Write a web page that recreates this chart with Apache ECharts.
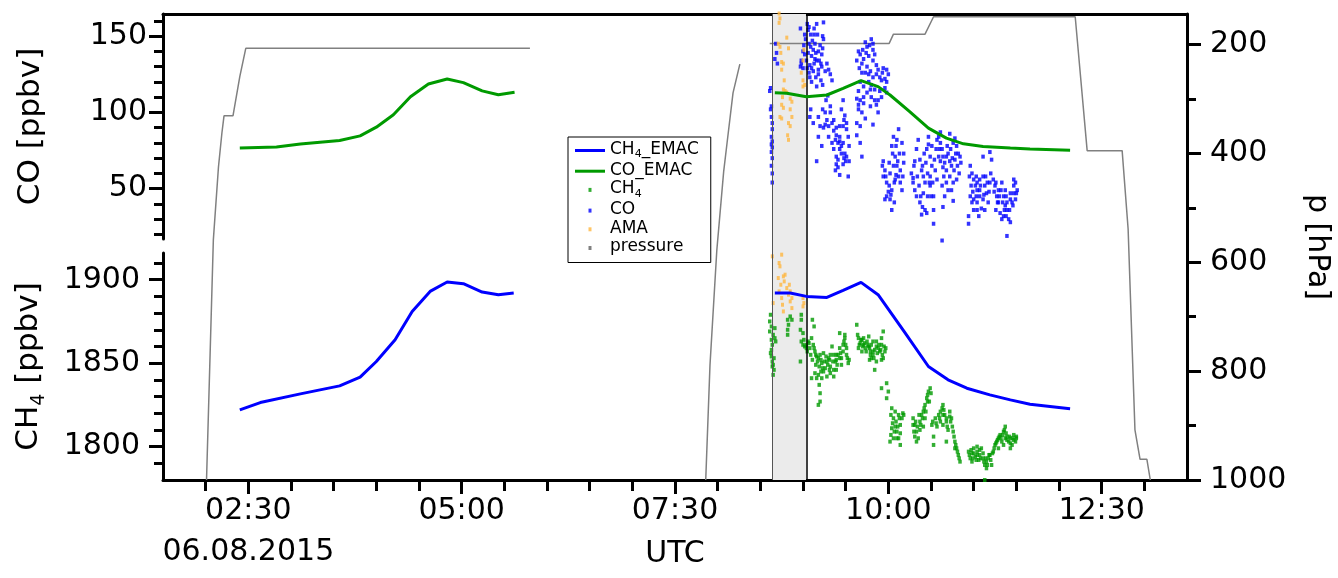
<!DOCTYPE html>
<html>
<head>
<meta charset="utf-8">
<script src="https://cdn.jsdelivr.net/npm/echarts@6/dist/echarts.min.js"></script>
<style>
html,body{margin:0;padding:0;background:#fff;}
#chart{width:1338px;height:578px;}
</style>
</head>
<body>
<div id="chart"></div>
<script>
// ---------------- data (time in decimal hours UTC, 06.08.2015) ----------------
const dateLabel = '06.08.2015';
const xMajorTicks = [2.5, 5, 7.5, 10, 12.5];
const xMinorTicks = [2, 3, 3.5, 4, 4.5, 5.5, 6, 6.5, 7, 8, 8.5, 9, 9.5, 10.5, 11, 11.5, 12, 13];
const coMajorTicks = [50, 100, 150];
const coMinorTicks = [20, 30, 40, 60, 70, 80, 90, 110, 120, 130, 140, 160];
const ch4MajorTicks = [1800, 1850, 1900];
const ch4MinorTicks = [1790, 1810, 1820, 1830, 1840, 1860, 1870, 1880, 1890, 1910];
const pMajorTicks = [200, 400, 600, 800, 1000];
const pMinorTicks = [300, 500, 700, 900];

const coEmacFlight1 = [[2.40,76.6],[2.83,77.3],[3.11,79.3],[3.57,81.6],[3.81,84.6],[4.00,90.3],[4.20,98.4],[4.40,110.3],[4.61,118.6],[4.83,121.9],[5.02,119.5],[5.24,114.1],[5.43,111.6],[5.62,113.2]];
const coEmacFlight2 = [[8.67,112.9],[8.81,112.5],[9.04,110.3],[9.28,111.4],[9.47,115.8],[9.68,120.8],[9.88,116.9],[10.02,111.4],[10.25,100.5],[10.47,89.7],[10.68,83.1],[10.88,79.4],[11.11,77.6],[11.43,76.6],[11.66,76.0],[12.13,75.2]];
const ch4EmacFlight1 = [[2.40,1822],[2.64,1826.4],[3.11,1831.6],[3.57,1836.4],[3.81,1841.6],[4.00,1851],[4.22,1864],[4.42,1881],[4.63,1893],[4.83,1898.6],[5.02,1897.6],[5.24,1892.6],[5.43,1891],[5.61,1892]];
const ch4EmacFlight2 = [[8.67,1892],[8.85,1892],[9.04,1890],[9.28,1889.4],[9.47,1893.6],[9.68,1898.4],[9.88,1891],[10.18,1869.4],[10.47,1848],[10.70,1840],[10.92,1835],[11.19,1831],[11.43,1828],[11.66,1825.4],[12.13,1822.7]];

const pressureFlight1 = [[2.01,1000],[2.09,559],[2.15,425],[2.19,363],[2.215,331],[2.32,331],[2.40,259],[2.47,207],[5.80,207]];
const pressureFlight2a = [[7.86,1000],[7.91,789],[7.99,578],[8.07,434],[8.11,381],[8.18,289],[8.26,236]];
const pressureFlight2b = [[8.61,198],[10.01,198],[10.06,181],[10.43,181],[10.53,149],[12.19,149],[12.33,395],[12.74,395],[12.81,539],[12.89,908],[12.95,962],[13.03,962],[13.07,1000]];

const coObs = [
[8.62,116],[8.61,114],[8.68,145],[8.69,139],[8.67,135],[8.70,132],[8.63,104],[8.64,93],[8.63,84],[8.64,81],[8.63,79],[8.64,77],[8.63,74],[8.64,70],[8.64,54],
[8.62,102],[8.63,97],[8.64,89],[8.63,65],[8.64,60],
[8.97,155],[9.02,151],[9.03,148],[9.01,144],[9.00,140],[9.02,138],[8.98,134],[8.98,132],[8.97,130],[9.00,129],
[9.05,158],[9.07,156],[9.13,155],[9.16,158],[9.24,159],[9.13,151],[9.17,151],[9.23,150],[9.24,148],[9.07,145],[9.09,143],[9.12,141],[9.15,139],[9.18,140],[9.22,138],[9.16,134],[9.13,132],[9.08,131],[9.10,129],[9.18,128],[9.18,125],[9.21,132],[9.08,123],[9.10,120],[9.16,117],[9.32,125],[9.34,121],[9.30,128],
[9.06,154],[9.09,151],[9.11,147],[9.14,145],[9.20,144],[9.23,142],[9.10,137],[9.14,135],[9.19,134],[9.22,130],[9.12,127],[9.15,123],[9.21,121],[9.23,118],[9.26,127],[9.28,132],[9.06,139],[9.04,134],[9.05,129],[9.07,126],
[9.09,102],[9.08,97],[9.18,97],[9.27,108],[9.29,111],[9.32,104],[9.20,91],[9.24,90],[9.26,92],[9.18,84],[9.30,84],[9.22,78],[9.16,68],[9.28,95],[9.12,93],
[9.47,108],[9.49,98],[9.51,93],[9.36,95],[9.39,90],[9.47,91],[9.51,89],[9.38,82],[9.41,80],[9.43,84],[9.47,80],[9.45,78],[9.43,76],[9.39,71],[9.49,73],[9.51,71],[9.39,66],[9.41,69],[9.38,62],[9.43,59],[9.53,58],[9.54,78],
[9.32,100],[9.34,93],[9.36,88],[9.39,85],[9.43,81],[9.45,73],[9.48,70],[9.50,68],[9.47,66],[9.41,64],[9.36,76],[9.34,80],[9.30,91],[9.26,100],[9.23,102],[9.45,102],[9.48,95],[9.53,84],[9.54,68],[9.43,91],
[9.65,140],[9.67,138],[9.71,135],[9.69,132],[9.73,146],[9.75,143],[9.80,148],[9.82,145],[9.77,137],[9.84,138],[9.75,130],[9.82,134],[9.79,127],[9.73,126],[9.69,126],[9.86,125],[9.90,123],[9.92,121],[9.94,129],[9.98,128],[9.98,120],[9.77,120],[9.80,118],[9.67,120],[9.84,115],[9.96,116],[9.90,114],[9.65,114],[9.80,110],[9.63,109],[9.67,108],[9.88,108],[9.92,110],[9.71,106],[9.79,104],[9.65,102],[9.69,100],[9.88,100],[9.73,96],[9.63,93],[9.67,91],[9.82,92],[9.63,85],[9.67,80],[9.69,71],[9.98,113],
[9.63,134],[9.66,129],[9.70,141],[9.74,139],[9.78,144],[9.82,141],[9.86,131],[9.88,128],[9.93,126],[9.96,122],[10.00,125],[9.71,117],[9.75,113],[9.79,115],[9.84,108],[9.86,105],[9.71,110],[9.65,105],[9.82,123],[9.77,125],
[9.94,68],[9.96,62],[9.94,58],[9.98,54],[10.00,48],[10.02,43],[10.04,36],[10.06,84],[10.04,78],[10.08,71],[10.10,65],[10.12,89],[10.12,58],[10.14,54],[10.16,49],[10.06,65],[10.02,60],[10.18,73],[10.16,80],[10.10,82],[10.08,56],[10.04,49],[9.96,43],
[9.93,65],[9.97,58],[10.01,52],[10.03,46],[10.07,54],[10.09,59],[10.11,68],[10.13,73],[10.14,62],[10.17,58],[10.18,67],[10.01,67],[10.05,73],[10.09,78],[9.98,45],[10.07,41],
[10.27,60],[10.29,54],[10.31,49],[10.33,45],[10.35,82],[10.33,76],[10.37,69],[10.39,62],[10.41,58],[10.43,54],[10.41,47],[10.47,84],[10.45,76],[10.49,71],[10.51,65],[10.49,52],[10.53,45],[10.55,62],[10.57,82],[10.53,36],[10.45,34],[10.39,33],[10.53,27],[10.37,41],[10.43,36],[10.49,58],[10.31,68],[10.47,79],
[10.29,57],[10.30,65],[10.34,58],[10.36,52],[10.38,45],[10.40,65],[10.42,73],[10.44,67],[10.46,60],[10.48,54],[10.50,45],[10.52,54],[10.54,69],[10.56,76],[10.57,56],[10.40,38],[10.46,45],[10.51,78],
[10.59,84],[10.61,80],[10.63,76],[10.64,71],[10.66,67],[10.68,62],[10.61,87],[10.72,86],[10.76,80],[10.78,83],[10.80,78],[10.82,73],[10.78,69],[10.74,65],[10.72,58],[10.68,54],[10.70,49],[10.66,45],[10.76,54],[10.80,56],[10.84,71],[10.63,16],[10.64,38],[10.76,42],[10.59,71],[10.70,73],
[10.60,76],[10.61,68],[10.64,64],[10.65,58],[10.68,71],[10.69,78],[10.72,68],[10.73,76],[10.75,70],[10.77,62],[10.79,73],[10.81,65],[10.83,60],[10.85,67],[10.63,52],[10.74,49],
[10.96,65],[10.98,60],[11.00,56],[11.02,52],[11.04,49],[10.96,45],[10.98,41],[11.00,36],[10.94,32],[10.94,27],[11.04,54],[11.07,45],[11.11,58],[11.13,52],[11.15,47],[11.19,54],[11.17,41],[11.13,36],[11.04,36],[11.06,32],[11.11,71],[11.19,74],[11.21,69],[11.07,49],[11.14,58],
[10.95,58],[10.97,52],[10.99,48],[11.00,43],[11.03,45],[11.04,41],[11.07,56],[11.08,52],[11.11,43],[11.12,46],[11.16,54],[11.18,48],[11.20,60],[11.03,58],[11.09,37],
[11.23,56],[11.25,52],[11.27,45],[11.29,41],[11.31,34],[11.33,30],[11.35,45],[11.37,39],[11.39,36],[11.41,30],[11.43,28],[11.45,41],[11.47,47],[11.49,54],[11.47,56],[11.49,43],[11.39,19],[11.37,49],[11.33,54],[11.43,47],[11.29,49],[11.35,32],
[11.24,48],[11.26,54],[11.28,41],[11.30,45],[11.32,49],[11.34,41],[11.36,36],[11.38,45],[11.39,41],[11.42,36],[11.43,43],[11.46,39],[11.47,52],[11.50,47],[11.51,49],[11.26,36],[11.38,32]
];

const ch4Obs = [
[8.62,1879],[8.61,1875],[8.63,1872],[8.65,1867],[8.67,1871],[8.68,1863],[8.64,1861],[8.63,1858],[8.63,1854],[8.64,1851],[8.65,1849],[8.66,1846],[8.65,1843],[8.61,1869],[8.67,1865],
[8.62,1856],[8.64,1848],[8.63,1864],[8.66,1853],
[8.82,1876],[8.83,1873],[8.82,1867],[8.85,1878],[8.87,1876],[8.82,1870],
[8.98,1879],[8.98,1876],[8.97,1870],[9.00,1868],[8.98,1863],[9.00,1861],[8.97,1851],[9.02,1860],[9.01,1864],
[9.04,1861],[9.06,1863],[9.08,1859],[9.10,1865],[9.12,1861],[9.11,1876],[9.13,1872],[9.14,1857],[9.16,1854],[9.15,1849],[9.18,1853],[9.20,1855],[9.22,1850],[9.24,1856],[9.26,1847],[9.28,1851],[9.30,1853],[9.32,1848],[9.34,1860],[9.36,1855],[9.38,1851],[9.39,1846],[9.41,1855],[9.43,1859],[9.45,1853],[9.47,1861],[9.49,1865],[9.51,1855],[9.53,1850],[9.43,1868],[9.49,1867],[9.18,1843],[9.16,1841],[9.19,1837],[9.20,1832],[9.18,1825],[9.20,1827],[9.28,1842],[9.32,1844],[9.24,1845],[9.36,1842],[9.14,1844],[9.22,1841],[9.39,1852],[9.45,1849],[9.51,1859],
[9.04,1859],[9.05,1857],[9.07,1862],[9.09,1855],[9.11,1852],[9.13,1859],[9.15,1855],[9.17,1851],[9.19,1848],[9.21,1852],[9.23,1847],[9.25,1851],[9.27,1854],[9.29,1849],[9.31,1852],[9.32,1855],[9.35,1851],[9.36,1846],[9.39,1855],[9.40,1849],[9.43,1853],[9.44,1856],[9.47,1857],[9.48,1863],[9.50,1861],[9.52,1853],[9.54,1852],[9.10,1841],[9.21,1845],[9.31,1846],
[9.63,1873],[9.65,1865],[9.67,1862],[9.69,1864],[9.71,1861],[9.73,1859],[9.75,1863],[9.77,1860],[9.79,1857],[9.80,1861],[9.82,1855],[9.84,1858],[9.86,1863],[9.88,1859],[9.90,1857],[9.92,1861],[9.94,1869],[9.96,1857],[9.92,1852],[9.86,1851],[9.84,1846],[9.80,1853],[9.71,1865],[9.77,1866],[9.92,1865],[9.94,1853],[9.98,1838],[10.00,1833],[9.92,1835],[9.98,1829],[9.65,1859],[9.69,1857],
[9.64,1867],[9.66,1861],[9.68,1864],[9.70,1860],[9.72,1862],[9.74,1857],[9.76,1861],[9.78,1859],[9.79,1855],[9.82,1857],[9.83,1853],[9.86,1860],[9.87,1856],[9.89,1861],[9.91,1858],[9.93,1855],[9.95,1860],[9.97,1859],[9.82,1863],[9.78,1852],
[10.04,1823],[10.06,1817],[10.08,1812],[10.10,1809],[10.12,1805],[10.14,1801],[10.16,1817],[10.18,1819],[10.04,1811],[10.06,1805],[10.02,1803],[10.14,1813],[10.12,1819],[10.08,1821],
[10.03,1819],[10.05,1814],[10.07,1809],[10.09,1815],[10.11,1812],[10.13,1817],[10.14,1808],[10.17,1820],[10.03,1807],[10.10,1805],
[10.29,1817],[10.31,1813],[10.33,1809],[10.35,1805],[10.37,1815],[10.39,1819],[10.41,1821],[10.43,1825],[10.45,1829],[10.47,1833],[10.49,1835],[10.43,1817],[10.37,1810],[10.33,1803],[10.41,1812],[10.46,1827],
[10.29,1813],[10.30,1809],[10.32,1815],[10.34,1812],[10.36,1819],[10.38,1813],[10.40,1817],[10.42,1823],[10.44,1821],[10.46,1831],[10.48,1827],[10.50,1832],[10.31,1806],
[10.51,1813],[10.53,1806],[10.55,1817],[10.57,1812],[10.59,1819],[10.61,1815],[10.63,1823],[10.64,1825],[10.66,1819],[10.68,1815],[10.70,1810],[10.72,1821],[10.74,1817],[10.76,1809],[10.78,1803],[10.80,1799],[10.82,1795],[10.84,1791],[10.53,1801],[10.64,1813],[10.68,1803],
[10.52,1815],[10.56,1814],[10.60,1817],[10.61,1821],[10.64,1819],[10.65,1822],[10.68,1817],[10.69,1812],[10.72,1818],[10.73,1815],[10.75,1812],[10.77,1806],[10.79,1801],[10.81,1797],[10.83,1793],[10.78,1799],
[10.94,1797],[10.96,1793],[10.98,1796],[11.00,1799],[11.02,1794],[11.04,1797],[11.06,1792],[11.07,1795],[11.09,1799],[11.11,1793],[11.13,1789],[11.15,1791],[11.17,1793],[11.19,1795],[11.21,1789],[11.13,1780],[11.15,1787],[11.04,1800],[10.98,1791],
[10.95,1795],[10.97,1798],[10.99,1793],[11.00,1796],[11.03,1792],[11.04,1795],[11.07,1798],[11.08,1793],[11.11,1796],[11.12,1791],[11.14,1793],[11.16,1789],[11.18,1795],[11.20,1792],[11.22,1796],
[11.23,1797],[11.25,1801],[11.27,1803],[11.29,1805],[11.31,1807],[11.33,1803],[11.35,1809],[11.37,1812],[11.39,1806],[11.41,1803],[11.43,1805],[11.45,1801],[11.47,1807],[11.49,1803],[11.50,1805],[11.35,1801],[11.29,1799],[11.43,1799],
[11.24,1799],[11.26,1802],[11.28,1804],[11.30,1806],[11.32,1805],[11.34,1807],[11.36,1810],[11.38,1808],[11.39,1804],[11.42,1806],[11.43,1802],[11.46,1805],[11.47,1804],[11.50,1806],[11.37,1805]
];

const amaCO = [
[8.72,164.8],[8.73,161.6],[8.72,158.7],[8.71,145],[8.73,143],[8.74,139],[8.75,133],[8.77,132],[8.75,128],[8.78,121],[8.77,115],[8.79,114],[8.81,113],[8.76,110],[8.85,109],[8.87,107],[8.75,105],[8.77,103],[8.85,102],[8.87,97],[8.73,97],[8.75,96],[8.83,93],[8.85,91],[8.82,85],[8.83,82],[8.81,149],[8.83,142],
[9.01,141],[9.00,134],[8.98,126],[9.00,121],[9.02,118],[9.00,117]
];
const amaCH4 = [
[8.64,1914],[8.65,1886],[8.72,1910],[8.73,1908],[8.71,1901],[8.74,1897],[8.72,1893],[8.75,1889],[8.76,1885],[8.77,1881],[8.79,1903],[8.81,1895],[8.83,1891],[8.85,1887],[8.84,1897],[8.87,1883],[8.78,1899],
[9.00,1889],[9.01,1886],[9.00,1884],[8.75,1915],[8.77,1902],[8.85,1893],[8.87,1889]
];

const shadeStart = 8.64;   // grey highlighted time window
const shadeEnd = 9.035;

// ---------------- chart ----------------
const FONT = 'DejaVu Sans';
const X_MIN = 1.5, X_MAX = 13.5;
const BLACK = '#000';
const axisLine = {show: true, onZero: false, lineStyle: {color: BLACK, width: 3}};
const tickStyle = {color: BLACK, width: 3};
const GAP = ['-', '-'];
const plainNumber = function (v) { return String(v); };

function fmtHour(v) {
  const h = Math.floor(v + 1e-6);
  const m = Math.round((v - h) * 60);
  return String(h).padStart(2, '0') + ':' + String(m).padStart(2, '0');
}

function minorY(grid, min, max, ticks, pos, inverse) {
  return {gridIndex: grid, type: 'value', min: min, max: max, position: pos, inverse: !!inverse,
    axisLine: {show: false, onZero: false}, axisLabel: {show: false}, splitLine: {show: false},
    axisTick: {show: true, customValues: ticks, length: 9, lineStyle: tickStyle}};
}

const LINE_ICON = 'path://M0,0L0,0M30,10L30,10M0,3.5L30,3.5L30,6.5L0,6.5Z';
const DOT_ICON = 'path://M0,0L0,0M30,10L30,10M13.5,3L16.5,3L16.5,7L13.5,7Z';

const COL_BLUE = '#0000ff', COL_GREEN = '#009a00', COL_ORANGE = '#ffb640', COL_GREY = '#808080';

const option = {
  animation: false,
  backgroundColor: '#fff',
  textStyle: {fontFamily: FONT, color: BLACK},
  grid: [
    {left: 163, top: 14, width: 1024, height: 225, containLabel: false, outerBoundsMode: 'none'},
    {left: 163, top: 253, width: 1024, height: 227, containLabel: false, outerBoundsMode: 'none'},
    {left: 163, top: 14, width: 1024, height: 466, containLabel: false, outerBoundsMode: 'none'}
  ],
  legend: {
    orient: 'vertical', left: 568, top: 137,
    padding: [4, 12, 7, 7],
    borderColor: BLACK, borderWidth: 1, backgroundColor: '#fff',
    itemWidth: 30, itemHeight: 10, itemGap: 1.7,
    selectedMode: false,
    itemStyle: {borderWidth: 0},
    data: [
      {name: 'CH4_EMAC', icon: LINE_ICON},
      {name: 'CO_EMAC', icon: LINE_ICON},
      {name: 'CH4', icon: DOT_ICON},
      {name: 'CO', icon: DOT_ICON},
      {name: 'AMA', icon: DOT_ICON},
      {name: 'pressure', icon: DOT_ICON}
    ],
    formatter: function (name) {
      if (name.indexOf('CH4') === 0) return '{a|CH}{s|4}' + (name.length > 3 ? '{a|' + name.slice(3) + '}' : '');
      return '{a|' + name + '}';
    },
    textStyle: {
      fontFamily: FONT, fontSize: 17, color: BLACK,
      rich: {
        a: {fontFamily: FONT, fontSize: 17, lineHeight: 19, verticalAlign: 'top', color: BLACK},
        s: {fontFamily: FONT, fontSize: 11, lineHeight: 11, verticalAlign: 'bottom', color: BLACK}
      }
    }
  },
  xAxis: [
    {gridIndex: 0, type: 'value', min: X_MIN, max: X_MAX, position: 'top',
      axisLine: axisLine, axisTick: {show: false}, axisLabel: {show: false}, splitLine: {show: false}},
    {gridIndex: 1, type: 'value', min: X_MIN, max: X_MAX, position: 'bottom',
      axisLine: axisLine,
      axisTick: {show: true, customValues: xMajorTicks, length: 14, lineStyle: tickStyle},
      axisLabel: {show: true, customValues: xMajorTicks, fontFamily: FONT, fontSize: 30, color: BLACK, margin: 11, lineHeight: 41,
        formatter: function (v) { return Math.abs(v - 2.5) < 1e-6 ? fmtHour(v) + '\n' + dateLabel : fmtHour(v); }},
      splitLine: {show: false},
      name: 'UTC', nameLocation: 'middle', nameGap: 54, nameMoveOverlap: false,
      nameTextStyle: {fontFamily: FONT, fontSize: 30, color: BLACK, lineHeight: 41}},
    {gridIndex: 1, type: 'value', min: X_MIN, max: X_MAX, position: 'bottom',
      axisLine: {show: false, onZero: false}, axisLabel: {show: false}, splitLine: {show: false},
      axisTick: {show: true, customValues: xMinorTicks, length: 11, lineStyle: tickStyle}},
    {gridIndex: 2, type: 'value', min: X_MIN, max: X_MAX, show: false, splitLine: {show: false}}
  ],
  yAxis: [
    {gridIndex: 0, type: 'value', min: 17, max: 164.5, position: 'left',
      axisLine: axisLine,
      axisTick: {show: true, customValues: coMajorTicks, length: 14, lineStyle: tickStyle},
      axisLabel: {show: true, customValues: coMajorTicks, formatter: plainNumber, fontFamily: FONT, fontSize: 30, color: BLACK, margin: 16},
      splitLine: {show: false},
      name: 'CO [ppbv]', nameLocation: 'middle', nameGap: 114, nameMoveOverlap: false,
      nameTextStyle: {fontFamily: FONT, fontSize: 31, color: BLACK, lineHeight: 36}},
    minorY(0, 17, 164.5, coMinorTicks, 'left', false),
    {gridIndex: 1, type: 'value', min: 1780, max: 1916, position: 'left',
      axisLine: axisLine,
      axisTick: {show: true, customValues: ch4MajorTicks, length: 14, lineStyle: tickStyle},
      axisLabel: {show: true, customValues: ch4MajorTicks, formatter: plainNumber, fontFamily: FONT, fontSize: 30, color: BLACK, margin: 23},
      splitLine: {show: false},
      name: '{a|CH}{s|4}{a| [ppbv]}', nameLocation: 'middle', nameGap: 114, nameMoveOverlap: false,
      nameTextStyle: {fontFamily: FONT, fontSize: 31, color: BLACK, lineHeight: 36,
        rich: {
          a: {fontFamily: FONT, fontSize: 31, lineHeight: 36, verticalAlign: 'top', color: BLACK},
          s: {fontFamily: FONT, fontSize: 19, lineHeight: 19, verticalAlign: 'bottom', color: BLACK}
        }}},
    minorY(1, 1780, 1916, ch4MinorTicks, 'left', false),
    {gridIndex: 2, type: 'value', min: 144, max: 1000, inverse: true, position: 'right',
      axisLine: axisLine,
      axisTick: {show: true, customValues: pMajorTicks, length: 14, lineStyle: tickStyle},
      axisLabel: {show: true, customValues: pMajorTicks, formatter: plainNumber, fontFamily: FONT, fontSize: 30, color: BLACK, margin: 23},
      splitLine: {show: false},
      name: 'p [hPa]', nameLocation: 'middle', nameGap: 112, nameRotate: -90, nameMoveOverlap: false,
      nameTextStyle: {fontFamily: FONT, fontSize: 30, color: BLACK, lineHeight: 36}},
    minorY(2, 144, 1000, pMinorTicks, 'right', true)
  ],
  series: [
    {name: 'window', type: 'line', xAxisIndex: 3, yAxisIndex: 4, data: [], z: 1, silent: true,
      markArea: {silent: true, itemStyle: {color: '#ebebeb', borderWidth: 0},
        data: [[{xAxis: shadeStart}, {xAxis: shadeEnd}]]},
      markLine: {silent: true, symbol: 'none', label: {show: false},
        data: [
          {xAxis: shadeStart, lineStyle: {color: '#555', width: 1, type: 'solid'}},
          {xAxis: shadeEnd, lineStyle: {color: BLACK, width: 1.5, type: 'solid'}}
        ]}},
    {name: 'pressure', type: 'line', xAxisIndex: 3, yAxisIndex: 4, z: 3,
      data: pressureFlight1.concat([GAP], pressureFlight2a, [GAP], pressureFlight2b),
      showSymbol: false, connectNulls: false,
      itemStyle: {color: COL_GREY}, lineStyle: {color: COL_GREY, width: 1.5}},
    {name: 'CO', type: 'scatter', xAxisIndex: 0, yAxisIndex: 0, z: 4, clip: false,
      data: coObs, symbol: 'rect', symbolSize: [3.5, 4], itemStyle: {color: COL_BLUE}},
    {name: 'AMA', type: 'scatter', xAxisIndex: 0, yAxisIndex: 0, z: 4, clip: false,
      data: amaCO, symbol: 'rect', symbolSize: [3, 4], itemStyle: {color: COL_ORANGE}},
    {name: 'CH4', type: 'scatter', xAxisIndex: 1, yAxisIndex: 2, z: 4, clip: false,
      data: ch4Obs, symbol: 'rect', symbolSize: [3.5, 4], itemStyle: {color: COL_GREEN}},
    {name: 'AMA', type: 'scatter', xAxisIndex: 1, yAxisIndex: 2, z: 4, clip: false,
      data: amaCH4, symbol: 'rect', symbolSize: [3, 4], itemStyle: {color: COL_ORANGE}},
    {name: 'CO_EMAC', type: 'line', xAxisIndex: 0, yAxisIndex: 0, z: 5,
      data: coEmacFlight1.concat([GAP], coEmacFlight2),
      showSymbol: false, connectNulls: false,
      itemStyle: {color: COL_GREEN}, lineStyle: {color: COL_GREEN, width: 3}},
    {name: 'CH4_EMAC', type: 'line', xAxisIndex: 1, yAxisIndex: 2, z: 5,
      data: ch4EmacFlight1.concat([GAP], ch4EmacFlight2),
      showSymbol: false, connectNulls: false,
      itemStyle: {color: COL_BLUE}, lineStyle: {color: COL_BLUE, width: 3}}
  ]
};

const chart = echarts.init(document.getElementById('chart'), null, {renderer: 'canvas'});
chart.setOption(option);
</script>
</body>
</html>
